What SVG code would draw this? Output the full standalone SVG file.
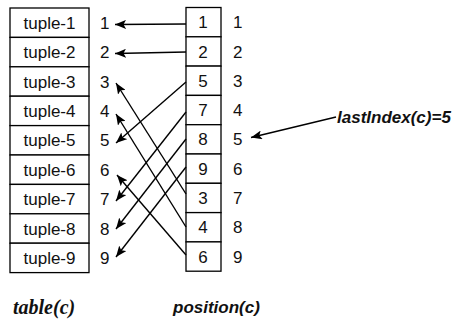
<svg xmlns="http://www.w3.org/2000/svg" width="458" height="325" viewBox="0 0 458 325">
  <defs>
    <marker id="arrow" markerUnits="userSpaceOnUse" markerWidth="12" markerHeight="9" refX="11" refY="4.5" orient="auto">
      <path d="M0,0 L11,4.5 L0,9 L2.5,4.5 Z" fill="#000"/>
    </marker>
    <style>
      .cell { fill: #fff; stroke: #000; stroke-width: 1.3; }
      .lbl { font-family: "Liberation Sans", Arial, sans-serif; font-size: 17px; fill: #111; }
      .num { font-family: "Liberation Sans", Arial, sans-serif; font-size: 17px; fill: #111; }
      .mid { text-anchor: middle; }
      .link { stroke: #000; stroke-width: 1.4; fill: none; marker-end: url(#arrow); }
      .cap { font-family: "Liberation Sans", Arial, sans-serif; font-weight: bold; font-style: italic; font-size: 17px; fill: #111; }
      .capserif { font-family: "Liberation Serif", "Times New Roman", serif; font-weight: bold; font-style: italic; font-size: 20px; fill: #111; }
    </style>
  </defs>

  <!-- table(c): tuple column with row indices -->
  <g id="table">
    <rect class="cell" x="10" y="8" width="79" height="29.4"/>
    <rect class="cell" x="10" y="37.4" width="79" height="29.4"/>
    <rect class="cell" x="10" y="66.8" width="79" height="29.4"/>
    <rect class="cell" x="10" y="96.2" width="79" height="29.4"/>
    <rect class="cell" x="10" y="125.6" width="79" height="29.4"/>
    <rect class="cell" x="10" y="155" width="79" height="29.4"/>
    <rect class="cell" x="10" y="184.4" width="79" height="29.4"/>
    <rect class="cell" x="10" y="213.8" width="79" height="29.4"/>
    <rect class="cell" x="10" y="243.2" width="79" height="29.4"/>
    <text class="lbl mid" x="49.5" y="28.7">tuple-1</text>
    <text class="lbl mid" x="49.5" y="58.1">tuple-2</text>
    <text class="lbl mid" x="49.5" y="87.5">tuple-3</text>
    <text class="lbl mid" x="49.5" y="116.9">tuple-4</text>
    <text class="lbl mid" x="49.5" y="146.3">tuple-5</text>
    <text class="lbl mid" x="49.5" y="175.7">tuple-6</text>
    <text class="lbl mid" x="49.5" y="205.1">tuple-7</text>
    <text class="lbl mid" x="49.5" y="234.5">tuple-8</text>
    <text class="lbl mid" x="49.5" y="263.9">tuple-9</text>
    <text class="num" x="100" y="28.7">1</text>
    <text class="num" x="100" y="58.1">2</text>
    <text class="num" x="100" y="87.5">3</text>
    <text class="num" x="100" y="116.9">4</text>
    <text class="num" x="100" y="146.3">5</text>
    <text class="num" x="100" y="175.7">6</text>
    <text class="num" x="100" y="205.1">7</text>
    <text class="num" x="100" y="234.5">8</text>
    <text class="num" x="100" y="263.9">9</text>
  </g>

  <!-- position(c): permutation column with indices -->
  <g id="position">
    <rect class="cell" x="186" y="7.5" width="35" height="29.3"/>
    <rect class="cell" x="186" y="36.8" width="35" height="29.3"/>
    <rect class="cell" x="186" y="66.1" width="35" height="29.3"/>
    <rect class="cell" x="186" y="95.4" width="35" height="29.3"/>
    <rect class="cell" x="186" y="124.7" width="35" height="29.3"/>
    <rect class="cell" x="186" y="154" width="35" height="29.3"/>
    <rect class="cell" x="186" y="183.3" width="35" height="29.3"/>
    <rect class="cell" x="186" y="212.6" width="35" height="29.3"/>
    <rect class="cell" x="186" y="241.9" width="35" height="29.3"/>
    <text class="num mid" x="203" y="28.2">1</text>
    <text class="num mid" x="203" y="57.5">2</text>
    <text class="num mid" x="203" y="86.8">5</text>
    <text class="num mid" x="203" y="116.1">7</text>
    <text class="num mid" x="203" y="145.4">8</text>
    <text class="num mid" x="203" y="174.7">9</text>
    <text class="num mid" x="203" y="204">3</text>
    <text class="num mid" x="203" y="233.3">4</text>
    <text class="num mid" x="203" y="262.6">6</text>
    <text class="num" x="233" y="28.2">1</text>
    <text class="num" x="233" y="57.5">2</text>
    <text class="num" x="233" y="86.8">3</text>
    <text class="num" x="233" y="116.1">4</text>
    <text class="num" x="233" y="145.4">5</text>
    <text class="num" x="233" y="174.7">6</text>
    <text class="num" x="233" y="204">7</text>
    <text class="num" x="233" y="233.3">8</text>
    <text class="num" x="233" y="262.6">9</text>
  </g>

  <g id="lastIndex">
    <text class="cap" x="337" y="123" font-size="18">lastIndex(c)=5</text>
  </g>

  <g id="captions">
    <text class="capserif" x="13" y="314">table(c)</text>
    <text class="cap" x="173" y="313">position(c)</text>
  </g>

  <!-- pointers from position entries to table rows -->
  <g id="connectors">
    <line class="link" x1="186" y1="24" x2="115" y2="24.5"/>
    <line class="link" x1="186" y1="52" x2="115" y2="53.5"/>
    <line class="link" x1="186" y1="82" x2="116" y2="143"/>
    <line class="link" x1="186" y1="112" x2="116" y2="201"/>
    <line class="link" x1="186" y1="139" x2="116" y2="229"/>
    <line class="link" x1="186" y1="167" x2="116" y2="257"/>
    <line class="link" x1="186" y1="194" x2="116" y2="83"/>
    <line class="link" x1="186" y1="227" x2="116" y2="114"/>
    <line class="link" x1="186" y1="255" x2="117" y2="175"/>
    <line class="link" x1="336" y1="117" x2="251" y2="137.5"/>
  </g>
</svg>
